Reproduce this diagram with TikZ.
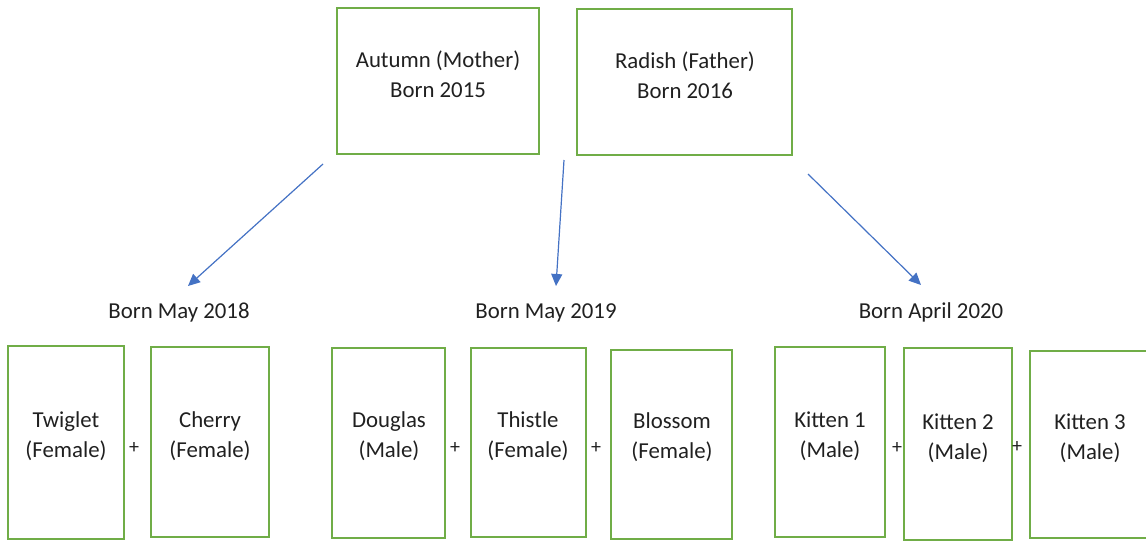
\documentclass[tikz,border=0pt]{standalone}
\usepackage{fontspec}
\setmainfont{Carlito}
\usetikzlibrary{arrows.meta}
\definecolor{boxgreen}{HTML}{70AD47}
\definecolor{arrowblue}{HTML}{4472C4}
\definecolor{txtgray}{HTML}{202020}
\tikzset{
  box/.style={draw=boxgreen, line width=2.8pt, rectangle, inner sep=0pt},
  txt/.style={align=center, inner sep=0pt, text=txtgray, font=\fontsize{22.8}{30}\selectfont},
  plus/.style={inner sep=0pt, text=txtgray, font=\fontsize{20}{24}\selectfont},
  arr/.style={draw=arrowblue, line width=1.2pt, -{Triangle[length=12pt,width=11pt]}}
}
\newcommand{\boxat}[5]{% name, x1, y1, x2, y2
  \node[box, minimum width={#4-#2}, minimum height={#5-#3}] (#1) at ({(#2+#4)/2},{(#3+#5)/2}) {};}
\begin{document}
\begin{tikzpicture}[x=1pt,y=-1pt]
\useasboundingbox (0,0) rectangle (1146,541);
% parents
\boxat{autumn}{337}{8}{539}{154}
\boxat{radish}{577}{9}{792}{155}
\node[txt] (autumnt) at (438,74) {Autumn (Mother)\\Born 2015};
\node[txt] (radisht) at (685,75) {Radish (Father)\\Born 2016};
% arrows
\coordinate (a1s) at (323,164);
\coordinate (a1e) at (188,286);
\coordinate (a2s) at (564,160);
\coordinate (a2e) at (556,286);
\coordinate (a3s) at (808,174);
\coordinate (a3e) at (921,285);
\draw[arr] (a1s) -- (a1e);
\draw[arr] (a2s) -- (a2e);
\draw[arr] (a3s) -- (a3e);
% litter labels
\node[txt] (l2018) at (179,312.5) {Born May 2018};
\node[txt] (l2019) at (546,312.5) {Born May 2019};
\node[txt] (l2020) at (931,312.5) {Born April 2020};
% kittens
\boxat{twiglet}{8}{346}{124}{539}
\boxat{cherry}{151}{347}{269}{537}
\boxat{douglas}{332}{348}{445}{538}
\boxat{thistle}{471}{348}{586}{537}
\boxat{blossom}{611}{350}{732}{539}
\boxat{kit1}{775}{347}{885}{537}
\boxat{kit2}{904}{348}{1012}{540}
\boxat{kit3}{1030}{351}{1150}{538}
\node[txt] (twiglett) at (66,436.5) {Twiglet\\(Female)};
\node[txt] (cherryt) at (210,436) {Cherry\\(Female)};
\node[txt] (douglast) at (389,436.5) {Douglas\\(Male)};
\node[txt] (thistlet) at (528,436.5) {Thistle\\(Female)};
\node[txt] (blossomt) at (672,437) {Blossom\\(Female)};
\node[txt] (kit1t) at (830,436) {Kitten 1\\(Male)};
\node[txt] (kit2t) at (958,438) {Kitten 2\\(Male)};
\node[txt] (kit3t) at (1090,438) {Kitten 3\\(Male)};
% plus signs
\node[plus] (p1) at (134,448) {+};
\node[plus] (p2) at (455,448) {+};
\node[plus] (p3) at (596,448) {+};
\node[plus] (p4) at (897,448) {+};
\node[plus] (p5) at (1017,447) {+};
\end{tikzpicture}
\end{document}
